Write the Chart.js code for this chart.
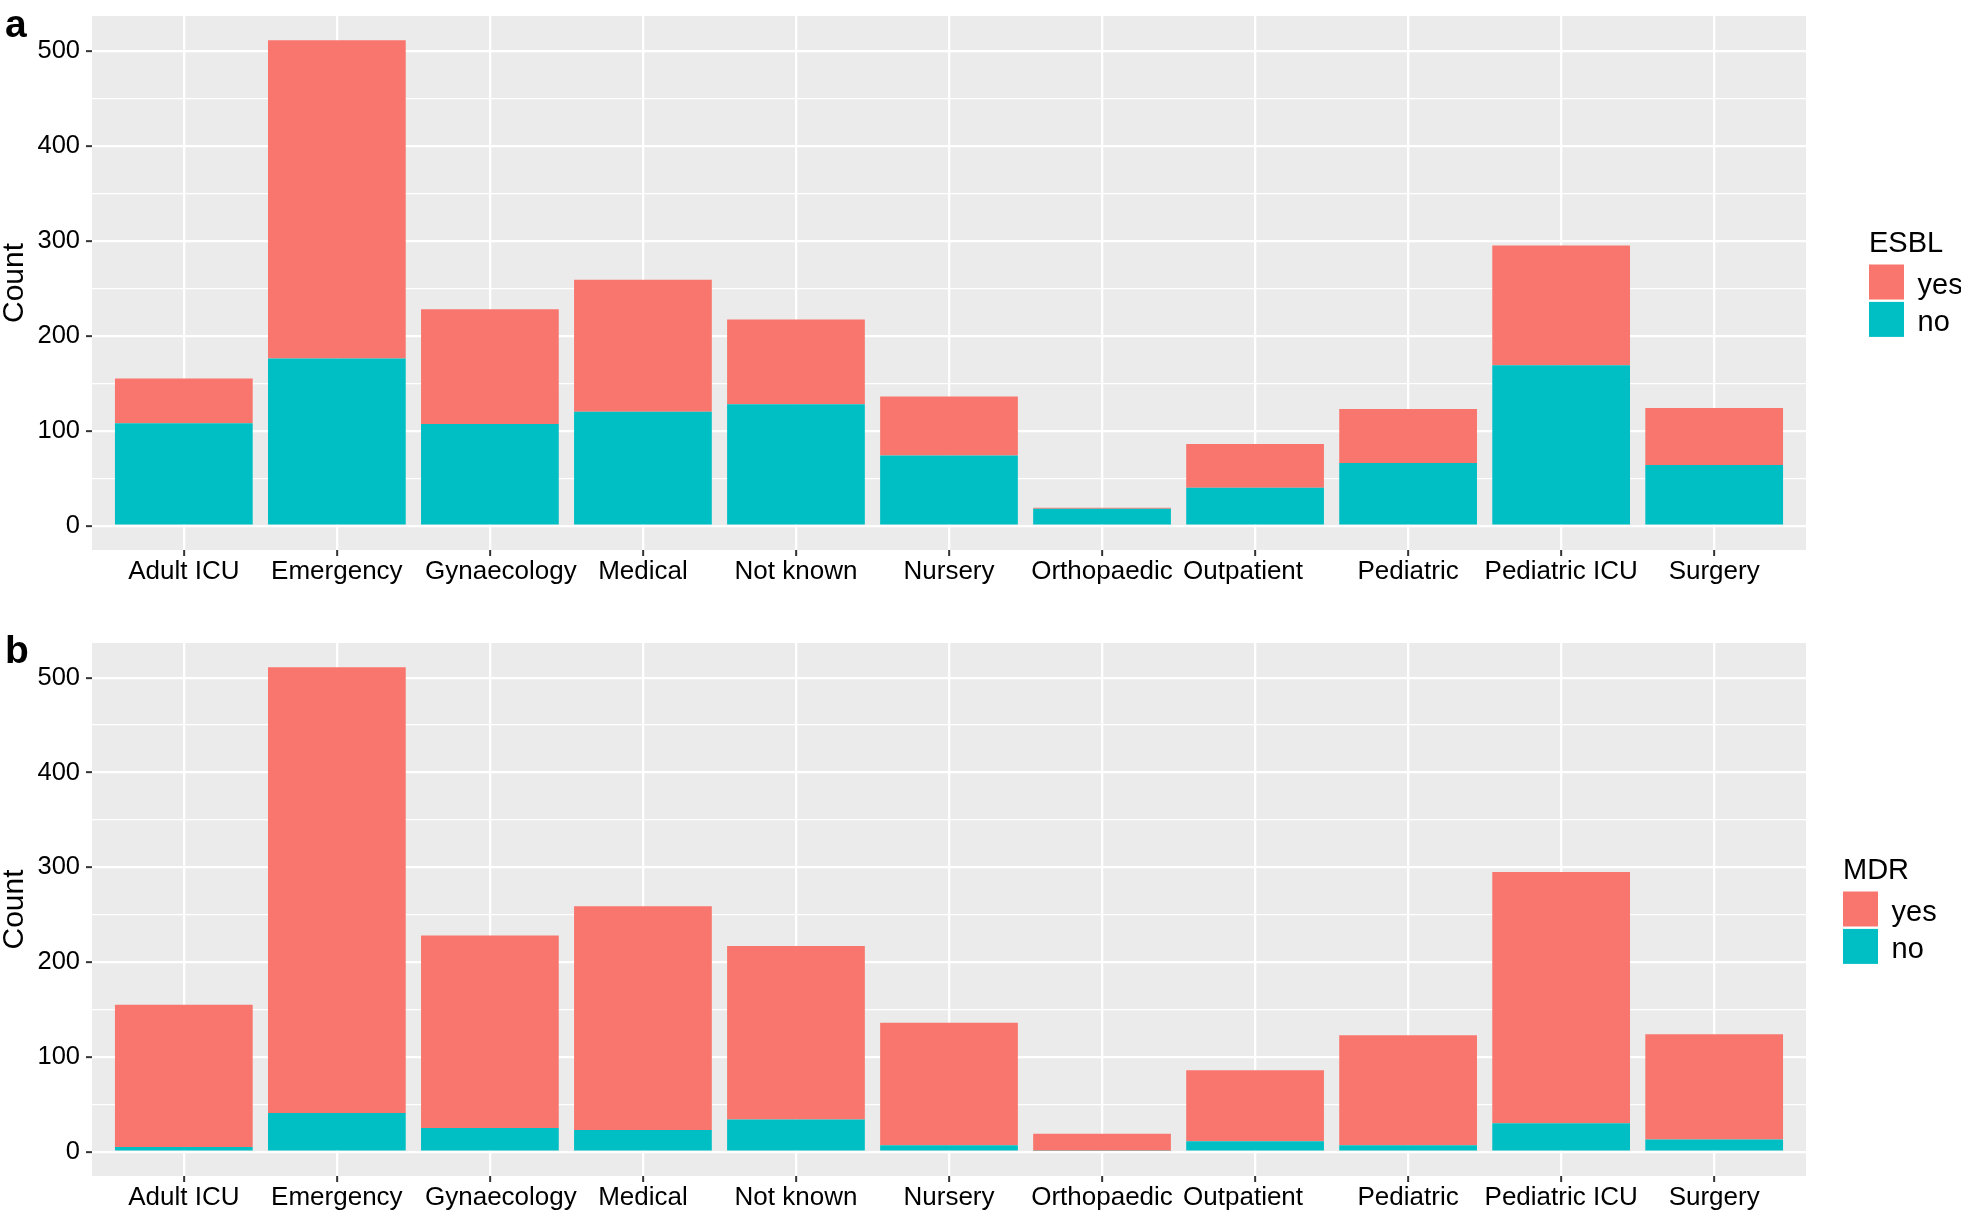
<!DOCTYPE html>
<html>
<head>
<meta charset="utf-8">
<script src="https://cdn.jsdelivr.net/npm/chart.js@4.4.1/dist/chart.umd.min.js"></script>
<style>
  body { margin: 0; background: #fff; }
  canvas { position: absolute; left: 0; display: block; }
</style>
</head>
<body>
<canvas id="chartA" width="1961" height="606" style="top:0px"></canvas>
<canvas id="chartB" width="1961" height="585" style="top:627px"></canvas>
<script>
// Data
const wards = ['Adult ICU', 'Emergency', 'Gynaecology', 'Medical', 'Not known', 'Nursery',
  'Orthopaedic', 'Outpatient', 'Pediatric', 'Pediatric ICU', 'Surgery'];

const esblYes = [47, 335, 121, 139, 89, 62, 1, 46, 57, 126, 60];
const esblNo  = [108, 176, 107, 120, 128, 74, 18, 40, 66, 169, 64];

const mdrYes = [150, 470, 203, 236, 183, 129, 18, 75, 116, 265, 111];
const mdrNo  = [5, 41, 25, 23, 34, 7, 1, 11, 7, 30, 13];

const yGridTicks = [0, 50, 100, 150, 200, 250, 300, 350, 400, 450, 500];
const yLabelTicks = [0, 100, 200, 300, 400, 500];
const yMin = -25.55, yMax = 536.55;

// small sideways nudges of some ward labels, as in the original figure (px)
const labelNudge = [0, 0, 11, 0, 0, 0, 0, -12, 0, 0, 0];

const RED = '#F8766D';
const TEAL = '#00BFC4';
const FONT = '"Liberation Sans", Arial, Helvetica, sans-serif';

Chart.defaults.font.family = FONT;
Chart.defaults.color = '#000';

// panel grey background + label nudges
const panelBg = {
  id: 'panelBg',
  beforeDraw(chart) {
    const a = chart.chartArea;
    const ctx = chart.ctx;
    ctx.save();
    ctx.fillStyle = '#EBEBEB';
    ctx.fillRect(a.left, a.top, a.right - a.left, a.bottom - a.top);
    ctx.restore();

    const items = chart.scales.x.getLabelItems(a);
    items.forEach((it, i) => {
      if (!it._nudged) {
        it.options.translation[0] += labelNudge[i] || 0;
        it._nudged = true;
      }
    });
  }
};

// ggplot style legend + panel letter
const ggLegend = {
  id: 'ggLegend',
  afterDraw(chart, args, opts) {
    const ctx = chart.ctx;
    ctx.save();
    ctx.fillStyle = '#000';
    ctx.font = 'bold 39px ' + FONT;
    ctx.textAlign = 'left';
    ctx.textBaseline = 'alphabetic';
    ctx.fillText(opts.letter, 5, opts.letterY);

    ctx.font = '29px ' + FONT;
    ctx.fillText(opts.title, opts.x, 252);

    const items = chart.data.datasets.slice().reverse();
    items.forEach((ds, i) => {
      const y = 264.5 + i * 37.4;
      ctx.fillStyle = ds.backgroundColor;
      ctx.fillRect(opts.x, y, 35, 35);
      ctx.fillStyle = '#000';
      ctx.textBaseline = 'middle';
      ctx.fillText(ds.label, opts.x + 48.5, y + 21.5);
    });
    ctx.restore();
  }
};

function makeChart(id, yesVals, noVals, title, letter, letterY, legendX, padBottom) {
  return new Chart(document.getElementById(id), {
    type: 'bar',
    data: {
      datasets: [{
        label: 'no',
        data: noVals.map((v, i) => ({ x: i + 1, y: v })),
        backgroundColor: TEAL,
        borderWidth: 0
      }, {
        label: 'yes',
        data: yesVals.map((v, i) => ({ x: i + 1, y: v })),
        backgroundColor: RED,
        borderWidth: 0
      }]
    },
    options: {
      responsive: false,
      animation: false,
      events: [],
      barPercentage: 0.9,
      categoryPercentage: 1.0,
      layout: { autoPadding: false, padding: { top: 16, right: 155, bottom: padBottom, left: 0 } },
      plugins: {
        legend: { display: false },
        tooltip: { enabled: false },
        ggLegend: { title: title, letter: letter, letterY: letterY, x: legendX }
      },
      scales: {
        x: {
          type: 'linear',
          stacked: true,
          offset: false,
          min: 0.4,
          max: wards.length + 0.6,
          afterBuildTicks: s => { s.ticks = wards.map((w, i) => ({ value: i + 1 })); },
          afterFit: s => { s.height = 36; s.paddingLeft = 0; s.paddingRight = 0; },
          border: { display: false },
          grid: { offset: false, color: '#FFFFFF', lineWidth: 2.3, tickLength: 6, tickColor: '#333333', tickWidth: 2 },
          ticks: {
            callback: v => wards[v - 1],
            autoSkip: false,
            maxRotation: 0,
            padding: 0,
            color: '#000',
            font: { size: 26, lineHeight: 1.2 }
          }
        },
        y: {
          stacked: true,
          min: yMin,
          max: yMax,
          afterBuildTicks: s => { s.ticks = yGridTicks.map(v => ({ value: v })); },
          afterFit: s => { s.width = 92; s.paddingTop = 0; s.paddingBottom = 0; },
          border: { display: false },
          grid: {
            color: '#FFFFFF',
            lineWidth: c => (c.tick && yLabelTicks.includes(c.tick.value)) ? 2.3 : 1.2,
            tickLength: 6,
            tickColor: c => (c.tick && yLabelTicks.includes(c.tick.value)) ? '#333333' : 'rgba(0,0,0,0)',
            tickWidth: 2
          },
          ticks: {
            callback: v => yLabelTicks.includes(v) ? v : '',
            padding: 6,
            color: '#000',
            font: { size: 25.5 }
          },
          title: {
            display: true,
            text: 'Count',
            color: '#000',
            padding: 0,
            font: { size: 30, lineHeight: 1 }
          }
        }
      }
    },
    plugins: [panelBg, ggLegend]
  });
}

makeChart('chartA', esblYes, esblNo, 'ESBL', 'a', 37, 1869, 20);
makeChart('chartB', mdrYes, mdrNo, 'MDR', 'b', 36, 1843, 0);
</script>
</body>
</html>
